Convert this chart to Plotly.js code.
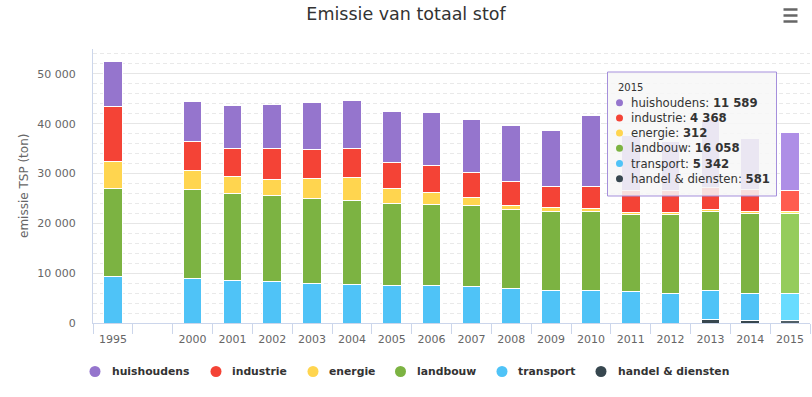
<!DOCTYPE html>
<html>
<head>
<meta charset="utf-8">
<script src="https://cdn.plot.ly/plotly-3.0.1.min.js"></script>
<style>html,body{margin:0;padding:0;background:#fff;}#chart{width:812px;height:397px;}</style>
</head>
<body>
<div id="chart"></div>
<script>
// ---- data (tonnes TSP) ----
var years = ['1995',' ','2000','2001','2002','2003','2004','2005','2006','2007','2008','2009','2010','2011','2012','2013','2014','2015'];
var huishoudens = [9060,null,8020,8690,8950,9550,9750,10280,10700,10620,11230,11300,14320,10930,9950,13690,10290,11589];
var industrie   = [11040,null,5750,5490,6030,5690,5690,5220,5430,4960,4900,4150,4280,4450,4350,4510,4430,4368];
var energie     = [5570,null,3900,3360,3220,4030,4570,2960,2330,1670,730,800,670,480,480,320,320,312];
var landbouw    = [17525,null,17820,17630,17440,17030,16890,16630,16370,16230,15880,15970,15970,15490,15750,15970,16090,16058];
var transport   = [9375,null,8930,8450,8240,7980,7780,7440,7440,7380,6920,6430,6430,6230,5970,5630,5350,5342];
var handel      = [null,null,null,null,null,null,null,null,null,null,null,null,null,null,null,800,560,581];
var seriesNames = ['huishoudens','industrie','energie','landbouw','transport','handel & diensten'];
var tooltipYear = '2015';
var tooltipValues = ['11 589','4 368','312','16 058','5 342','581'];

// ---- styling ----
var baseColors  = ['#9575cd','#f44336','#ffd54f','#7cb342','#4fc3f7','#37474f'];
var hoverColors = ['#ae8ee6','#ff5c4f','#ffee68','#95cc5b','#68dcff','#506068'];
var FONT = 'DejaVu Sans, Verdana, sans-serif';

var L = 93, R = 2, T = 49, B = 74, W = 812, H = 397;
var PW = W - L - R, PH = H - T - B;
function px(x){ return (x - L) / PW; }
function py(y){ return (H - B - y) / PH; }

// stacking order bottom -> top
var stackData = [handel, transport, landbouw, energie, industrie, huishoudens];
var stackIdx  = [5, 4, 3, 2, 1, 0];

var traces = stackData.map(function(vals, k){
  var si = stackIdx[k];
  var cols = years.map(function(y){ return y === tooltipYear ? hoverColors[si] : baseColors[si]; });
  return {
    type: 'bar', x: years, y: vals, name: seriesNames[si],
    marker: {color: cols, line: {color: '#ffffff', width: 1}},
    showlegend: false, hoverinfo: 'skip'
  };
});

var shapes = [];
var annotations = [];

// y-axis title
annotations.push({xref:'paper', yref:'paper', x: px(24), y: 0.5, text: 'emissie TSP (ton)',
  textangle: -90, showarrow: false, xanchor: 'center', yanchor: 'middle',
  font: {family: FONT, size: 12, color: '#666666'}});

// custom legend
var legendX = [95, 216, 313, 400.5, 502, 601];
var legendTextX = [109.5, 230, 326.5, 415, 516, 615.5];
var legendY = 371.5;
for (var i = 0; i < 6; i++) {
  shapes.push({type:'circle', xref:'paper', yref:'paper', xsizemode:'pixel', ysizemode:'pixel',
    xanchor: px(legendX[i]), yanchor: py(legendY), x0:-5.5, x1:5.5, y0:-5.5, y1:5.5,
    fillcolor: baseColors[i], line:{width:0}});
  annotations.push({xref:'paper', yref:'paper', x: px(legendTextX[i]), y: py(legendY),
    text: '<b>' + seriesNames[i].replace('&','&amp;') + '</b>', showarrow:false,
    xanchor:'left', yanchor:'middle', font:{family: FONT, size: 10.8, color:'#333333'}});
}

// tooltip box
shapes.push({type:'rect', xref:'paper', yref:'paper', layer:'above',
  x0: px(607.5), x1: px(776.5), y0: py(72), y1: py(196),
  fillcolor:'rgba(247,247,247,0.87)', line:{color:'#a58fdc', width:1}});
annotations.push({xref:'paper', yref:'paper', x: px(615.5), y: py(87.5), text: tooltipYear,
  showarrow:false, xanchor:'left', yanchor:'middle', font:{family: FONT, size: 10, color:'#333333'}});
var tipY = [102.7, 117.9, 133.1, 148.3, 163.5, 178.8];
for (var j = 0; j < 6; j++) {
  shapes.push({type:'circle', xref:'paper', yref:'paper', xsizemode:'pixel', ysizemode:'pixel', layer:'above',
    xanchor: px(619.5), yanchor: py(tipY[j]), x0:-3.5, x1:3.5, y0:-3.5, y1:3.5,
    fillcolor: baseColors[j], line:{width:0}});
  annotations.push({xref:'paper', yref:'paper', x: px(628.5), y: py(tipY[j]),
    text: seriesNames[j].replace('&','&amp;') + ': <b>' + tooltipValues[j] + '</b>', showarrow:false,
    xanchor:'left', yanchor:'middle', font:{family: FONT, size: 11.7, color:'#333333'}});
}

// context menu icon
[9.5, 15.5, 21.5].forEach(function(yy){
  shapes.push({type:'line', xref:'paper', yref:'paper', x0: px(783.5), x1: px(797.5), y0: py(yy), y1: py(yy),
    line:{color:'#666666', width:2.5}});
});

var layout = {
  width: W, height: H,
  margin: {l: L, r: R, t: T, b: B, pad: 0},
  paper_bgcolor: '#ffffff', plot_bgcolor: '#ffffff',
  barmode: 'stack', bargap: 0.53,
  separators: ', ',
  font: {family: FONT, color: '#666666'},
  title: {text: 'Emissie van totaal stof', x: 0.5, xref: 'container', xanchor: 'center',
    y: 1 - 14/397, yref: 'container', yanchor: 'middle',
    font: {family: FONT, size: 17.5, color: '#333333'}},
  xaxis: {type: 'category', categoryorder: 'array', categoryarray: years, range: [-0.5, 17.5],
    showline: true, linecolor: '#ccd6eb', linewidth: 1,
    ticks: 'outside', tickson: 'boundaries', ticklen: 10, tickcolor: '#ccd6eb', tickwidth: 1,
    ticklabelstandoff: 6,
    showgrid: false, zeroline: false, fixedrange: true,
    tickfont: {family: FONT, size: 11, color: '#666666'}},
  yaxis: {range: [0, 55000], dtick: 10000, tick0: 0, tickformat: ',d',
    showline: true, linecolor: '#ccd6eb', linewidth: 1,
    showgrid: true, gridcolor: '#e6e6e6', gridwidth: 1, zeroline: false,
    ticks: '', ticklabelstandoff: 14, fixedrange: true,
    minor: {dtick: 2000, tick0: 0, showgrid: true, gridcolor: '#e9e9e9', griddash: '4px,3px', gridwidth: 1},
    tickfont: {family: FONT, size: 11, color: '#666666'}},
  shapes: shapes,
  annotations: annotations,
  showlegend: false,
  hovermode: false
};

Plotly.newPlot('chart', traces, layout, {displayModeBar: false, staticPlot: true});
</script>
</body>
</html>
